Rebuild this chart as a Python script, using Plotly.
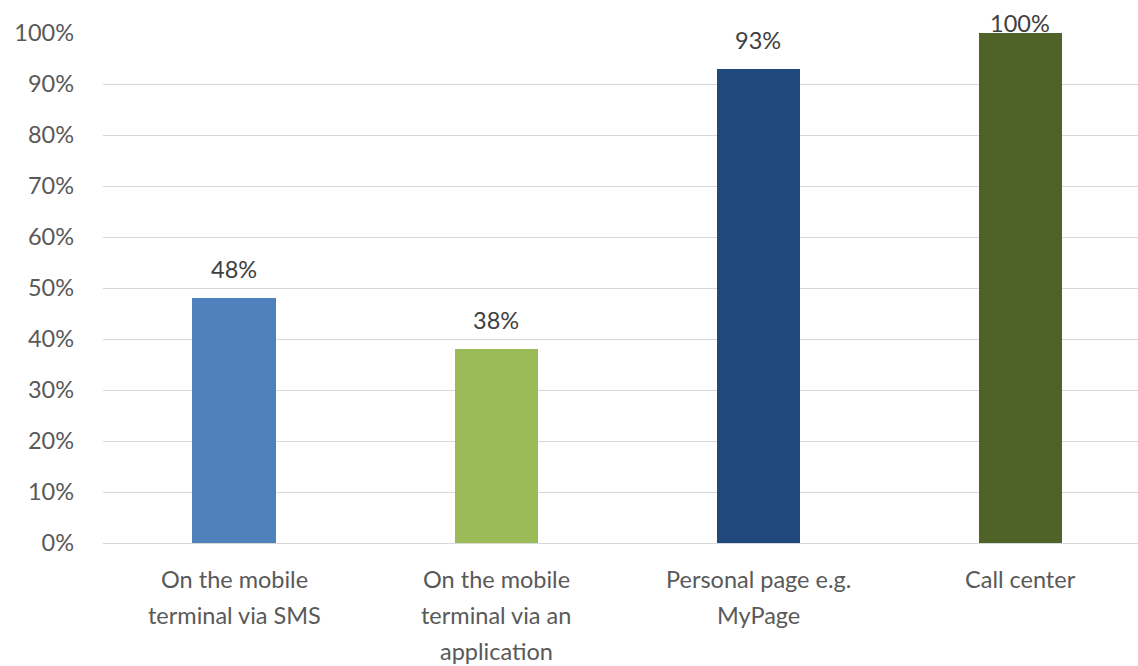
import plotly.graph_objects as go

categories = ["On the mobile<br>terminal via SMS",
              "On the mobile<br>terminal via an<br>application",
              "Personal page e.g.<br>MyPage",
              "Call center"]
values = [48, 38, 93, 100]
bar_colors = ["#4F81BD", "#9BBB59", "#1F497D", "#4F6228"]
tick_vals = list(range(0, 101, 10))
tick_text = [f"{v}%" for v in tick_vals]

FONT = "Lato, Calibri, sans-serif"
FS = 23.5
W, H = 1138, 666
M_L, M_R, M_T, M_B = 103, 0, 33, 123
plot_h = H - M_T - M_B
px_per_unit = plot_h / 100.0

x_idx = list(range(len(categories)))

fig = go.Figure()
fig.add_trace(go.Bar(
    x=x_idx, y=values, marker=dict(color=bar_colors, line=dict(width=0)),
    width=0.317, hoverinfo="skip", showlegend=False,
))

annotations = []
# data labels
for i, v in enumerate(values):
    shift = min(29, M_T + (100 - v) * px_per_unit - 23)
    annotations.append(dict(
        x=i, y=v, xref="x", yref="y", text=f"{v}%", showarrow=False,
        yanchor="middle", xanchor="center", yshift=shift,
        font=dict(family=FONT, size=FS, color="#404040"),
    ))
# category labels with Excel-like line spacing
LINE = 36
for i, c in enumerate(categories):
    for j, line in enumerate(c.split("<br>")):
        annotations.append(dict(
            x=i, y=0, xref="x", yref="y", text=line, showarrow=False,
            yanchor="middle", xanchor="center", yshift=-(36 + j * LINE),
            font=dict(family=FONT, size=FS, color="#595959"),
        ))

fig.update_layout(
    width=W, height=H,
    margin=dict(l=M_L, r=M_R, t=M_T, b=M_B, pad=0),
    paper_bgcolor="white", plot_bgcolor="white",
    annotations=annotations,
    font=dict(family=FONT, size=FS, color="#595959"),
    xaxis=dict(range=[-0.5, 3.45], showticklabels=False, showgrid=False,
               zeroline=False, showline=False, ticks="", fixedrange=True),
    yaxis=dict(range=[0, 100], tickvals=tick_vals, ticktext=tick_text,
               showgrid=True, gridcolor="#D9D9D9", gridwidth=1.3,
               zeroline=True, zerolinecolor="#D9D9D9", zerolinewidth=1.3,
               showline=False, ticks="", ticklabelstandoff=28,
               tickfont=dict(family=FONT, size=FS, color="#595959"),
               fixedrange=True),
    bargap=0,
)

fig.write_html("out.html", config={"displayModeBar": False})
